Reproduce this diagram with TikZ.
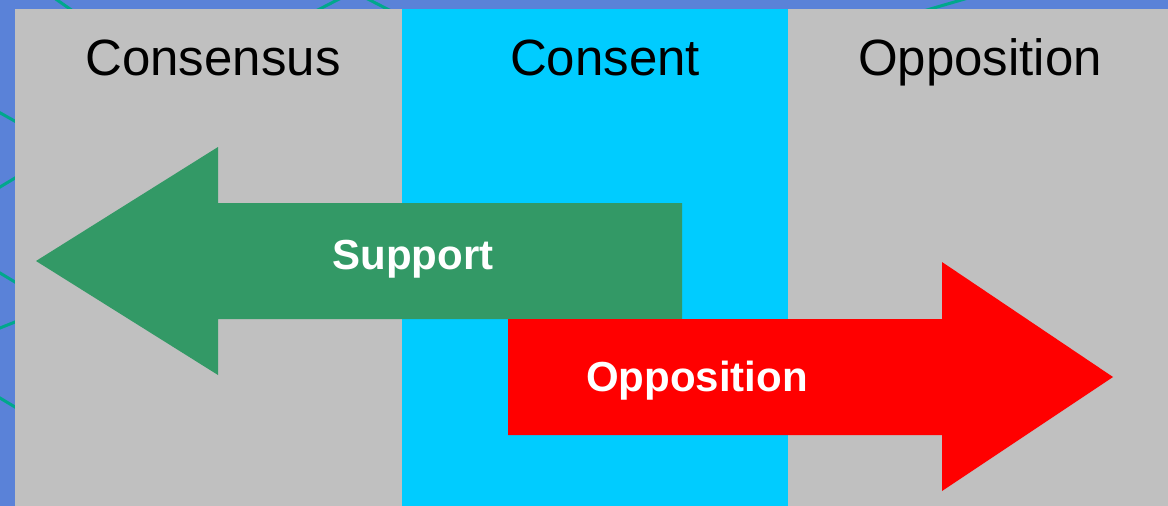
\documentclass[tikz,border=0pt]{standalone}
\usepackage{fontspec}
\setmainfont{Liberation Sans}
\definecolor{slideblue}{HTML}{5A82D8}
\definecolor{stripe}{HTML}{00A88C}
\definecolor{panelgray}{HTML}{C0C0C0}
\definecolor{panelcyan}{HTML}{00CCFF}
\definecolor{supportgreen}{HTML}{339966}
\definecolor{opposered}{HTML}{FF0000}

\begin{document}
\begin{tikzpicture}[x=1pt,y=-1pt,
  heading/.style={font=\fontsize{51}{60}\selectfont,anchor=base},
  arrowlabel/.style={font=\fontsize{42}{50}\selectfont\bfseries,text=white,anchor=base}]
\def\xl{15}
\def\xa{402}
\def\xb{788}
\def\xr{1168}
\def\yt{9}
\def\yb{506}
  \useasboundingbox (0,0) rectangle (\xr,\yb);
  \fill[slideblue] (0,0) rectangle (\xr,\yb);
  \begin{scope}
    \clip (0,0) rectangle (\xr,\yb);
    \foreach \a/\b/\c/\d in {50/-5/80/16, 345/-4/310/14, 360/-5/395/13, 975/-4/920/12,
                             -5/110/20/124, 20/175/-5/190, -5/270/20/285, 20/320/-5/330, -5/395/20/410} {
      \draw[stripe,line width=3pt] (\a,\b) -- (\c,\d);
    }
  \end{scope}
  \fill[panelgray] (\xl,\yt) rectangle (\xa,\yb);
  \fill[panelcyan] (\xa,\yt) rectangle (\xb,\yb);
  \fill[panelgray] (\xb,\yt) rectangle (\xr,\yb);
  \node[heading] (consensus) at (213,75) {Consensus};
  \node[heading] (consent) at (605,75) {Consent};
  \node[heading] (opposehead) at (980,75) {Opposition};
  \fill[supportgreen] (36,261) -- (218,147) -- (218,203) -- (682,203) -- (682,319)
    -- (218,319) -- (218,375) -- cycle;
  \fill[opposered] (1113,377) -- (942,262) -- (942,319) -- (508,319) -- (508,435)
    -- (942,435) -- (942,491) -- cycle;
  \node[arrowlabel] (support) at (413,269) {Support};
  \node[arrowlabel] (opposition) at (697,391) {Opposition};
\end{tikzpicture}
\end{document}
